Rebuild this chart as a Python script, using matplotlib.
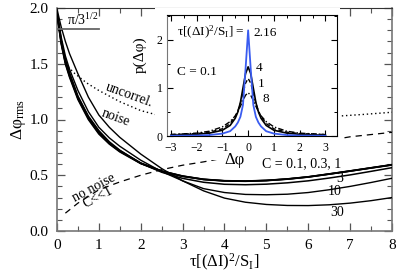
import matplotlib
matplotlib.use("Agg")
import matplotlib.pyplot as plt
from matplotlib.ticker import MultipleLocator, FormatStrFormatter
from matplotlib.patches import Rectangle
import numpy as np

plt.rcParams['font.family'] = ['Liberation Serif', 'DejaVu Serif']
plt.rcParams['mathtext.fontset'] = 'custom'
plt.rcParams['mathtext.rm'] = 'Liberation Serif'
plt.rcParams['mathtext.it'] = 'Liberation Serif'
plt.rcParams['mathtext.bf'] = 'Liberation Serif:bold'

# ---------------- main panel data ----------------
tau = [0, 0.1, 0.2, 0.3, 0.5, 0.75, 1.0, 1.25, 1.5, 2.0, 2.5, 3.0, 3.5, 4.0,
       4.5, 5.0, 5.5, 6.0, 6.5, 7.0, 7.5, 8.0]
rms_C01 = [1.95, 1.68, 1.50, 1.38, 1.18, 1.00, 0.87, 0.78, 0.71, 0.605, 0.535, 0.49,
           0.462, 0.449, 0.446, 0.452, 0.465, 0.484, 0.51, 0.537, 0.565, 0.592]
rms_C03 = [1.95, 1.69, 1.51, 1.39, 1.19, 1.01, 0.88, 0.785, 0.715, 0.607, 0.537, 0.492,
           0.463, 0.450, 0.447, 0.453, 0.466, 0.485, 0.511, 0.538, 0.566, 0.594]
rms_C1 = [1.96, 1.70, 1.52, 1.40, 1.20, 1.02, 0.89, 0.79, 0.72, 0.61, 0.538, 0.493,
          0.464, 0.451, 0.448, 0.454, 0.467, 0.486, 0.512, 0.539, 0.567, 0.595]
rms_C3 = [1.96, 1.71, 1.54, 1.42, 1.21, 1.03, 0.90, 0.80, 0.725, 0.607, 0.527, 0.472,
          0.437, 0.419, 0.415, 0.42, 0.432, 0.45, 0.475, 0.503, 0.535, 0.568]
rms_C10 = [1.97, 1.74, 1.57, 1.45, 1.26, 1.07, 0.93, 0.835, 0.76, 0.635, 0.533, 0.45,
           0.38, 0.345, 0.328, 0.325, 0.33, 0.345, 0.37, 0.40, 0.435, 0.473]
rms_C30 = [1.99, 1.83, 1.70, 1.59, 1.41, 1.20, 1.04, 0.93, 0.84, 0.69, 0.56, 0.45,
           0.36, 0.295, 0.258, 0.238, 0.229, 0.228, 0.235, 0.25, 0.272, 0.30]

tau_uncorr = [0.2, 0.4, 0.7, 1.0, 1.5, 2.0, 2.5, 3.0, 4.0, 5.0, 6.0, 6.7, 7.3, 8.0]
rms_uncorr = [1.50, 1.42, 1.33, 1.26, 1.16, 1.08, 1.03, 1.01, 0.99, 1.0, 1.015, 1.03, 1.045, 1.065]

tau_nonoise = [0.2, 0.5, 1.0, 1.5, 2.0, 2.5, 3.0, 3.5, 4.0, 5.0, 6.0, 7.0, 8.0]
rms_nonoise = [0.16, 0.25, 0.37, 0.44, 0.50, 0.55, 0.59, 0.62, 0.655, 0.72, 0.78, 0.845, 0.885]

tau_pi = [0, 1.0]
rms_pi = [np.pi / np.sqrt(3), np.pi / np.sqrt(3)]

# ---------------- inset data ----------------
dphi = [-3, -2, -1.5, -1, -0.7, -0.5, -0.4, -0.3, -0.2, -0.1, 0,
        0.1, 0.2, 0.3, 0.4, 0.5, 0.7, 1, 1.5, 2, 3]
p_216 = [0.005, 0.01, 0.02, 0.05, 0.10, 0.20, 0.28, 0.40, 0.65, 1.40, 2.20,
         1.40, 0.65, 0.40, 0.28, 0.20, 0.10, 0.05, 0.02, 0.01, 0.005]
p_4 = [0.015, 0.035, 0.06, 0.12, 0.22, 0.37, 0.50, 0.70, 1.00, 1.30, 1.44,
       1.30, 1.00, 0.70, 0.50, 0.37, 0.22, 0.12, 0.06, 0.035, 0.015]
p_1 = [0.03, 0.05, 0.08, 0.15, 0.26, 0.41, 0.52, 0.68, 0.90, 1.10, 1.20,
       1.10, 0.90, 0.68, 0.52, 0.41, 0.26, 0.15, 0.08, 0.05, 0.03]
p_8 = [0.03, 0.06, 0.10, 0.19, 0.30, 0.42, 0.51, 0.62, 0.74, 0.85, 0.90,
       0.85, 0.74, 0.62, 0.51, 0.42, 0.30, 0.19, 0.10, 0.06, 0.03]

W, H = 402, 274
fig = plt.figure(figsize=(W / 100, H / 100), dpi=100)
ax = fig.add_axes([57 / W, 1 - 231 / H, (392 - 57) / W, (231 - 8) / H])

for y, lw in [(rms_C01, 1.2), (rms_C03, 1.2), (rms_C1, 1.2), (rms_C3, 1.1),
              (rms_C10, 1.0), (rms_C30, 1.0)]:
    ax.plot(tau, y, color='black', lw=lw, zorder=3)
ax.plot(tau_uncorr, rms_uncorr, color='black', lw=1.0, ls=(0, (1, 2)), zorder=3)
ax.plot(tau_nonoise, rms_nonoise, color='black', lw=0.9, ls=(0, (5, 4)), zorder=3)
ax.plot(tau_pi, rms_pi, color='#666666', lw=1.3, zorder=3)

# white box behind inset
ax.add_patch(Rectangle((2.34, 0.637), 6.75 - 2.34, 1.5, facecolor='white',
                       edgecolor='none', zorder=5))

ax.set_xlim(0, 8)
ax.set_ylim(0, 2.0)
ax.xaxis.set_major_locator(MultipleLocator(1))
ax.xaxis.set_minor_locator(MultipleLocator(0.5))
ax.yaxis.set_major_locator(MultipleLocator(0.5))
ax.yaxis.set_minor_locator(MultipleLocator(0.1))
ax.tick_params(which='both', direction='in', top=True, right=True, labelsize=11,
               color='#555555')
ax.tick_params(axis='x', pad=6)
ax.tick_params(axis='y', pad=6)
ax.tick_params(which='major', length=6, width=0.9)
ax.tick_params(which='minor', length=3.5, width=0.8)
ax.yaxis.set_major_formatter(FormatStrFormatter('%.1f'))
for s in ['left', 'right', 'bottom']:
    ax.spines[s].set_color('#777777')
    ax.spines[s].set_linewidth(1.2)
ax.spines['top'].set_color('#333333')

ax.set_xlabel(r'τ[(ΔI)$^2$/S$_\mathrm{I}$]', fontsize=12, labelpad=0)
ax.set_ylabel(r'Δφ$_\mathrm{rms}$', fontsize=12.5, labelpad=1)

ax.text(0.62, 1.89, r'π/3$^{1/2}$', fontsize=10, ha='center', va='center', zorder=4)
ax.text(1.72, 1.215, 'uncorrel.', fontsize=10, rotation=-20, ha='center', va='center', zorder=4)
ax.text(1.41, 1.02, 'noise', fontsize=10, rotation=-20, ha='center', va='center', zorder=4)
ax.text(0.88, 0.385, 'no noise', fontsize=10, rotation=28, ha='center', va='center', zorder=4)
ax.text(0.98, 0.30, 'C<<1', fontsize=10, rotation=28, ha='center', va='center', zorder=4)
ax.text(5.85, 0.60, 'C = 0.1, 0.3, 1', fontsize=10, ha='center', va='center', zorder=6)
ax.text(6.75, 0.475, '3', fontsize=10, ha='center', va='center', zorder=4)
ax.text(6.63, 0.35, '10', fontsize=10, ha='center', va='center', zorder=4)
ax.text(6.68, 0.17, '30', fontsize=10, ha='center', va='center', zorder=4)

# ---------------- inset ----------------
ai = fig.add_axes([167 / W, 1 - 136 / H, 170 / W, 121 / H])
ai.plot(dphi, p_8, color='black', lw=1.0, ls=(0, (4, 1.5, 1, 1.5)))
ai.plot(dphi, p_1, color='black', lw=1.0, ls=(0, (3, 2)))
ai.plot(dphi, p_4, color='black', lw=1.2)
ai.plot(dphi, p_216, color='#3a5cf0', lw=1.3)
ai.set_xlim(-3.15, 3.45)
ai.set_ylim(0, 2.52)
ai.xaxis.set_major_locator(MultipleLocator(1))
ai.xaxis.set_minor_locator(MultipleLocator(0.5))
ai.yaxis.set_major_locator(MultipleLocator(1))
ai.yaxis.set_minor_locator(MultipleLocator(0.5))
ai.tick_params(which='both', direction='in', top=True, right=True, labelsize=8.5)
ai.tick_params(axis='x', pad=4)
ai.tick_params(axis='y', pad=3)
ai.tick_params(which='major', length=4, width=0.8)
ai.tick_params(which='minor', length=2.5, width=0.7)
ai.spines['left'].set_color('#777777')
ai.set_xlabel('Δφ', fontsize=12)
ai.xaxis.set_label_coords(0.395, -0.135)
ai.set_ylabel('p(Δφ)', fontsize=11)
ai.yaxis.set_label_coords(-0.12, 0.67)

ai.text(-2.75, 2.15, r'τ[(ΔI)$^2$/S$_\mathrm{I}$] =', fontsize=9.5, ha='left', va='center')
ai.text(0.2, 2.15, '2.16', fontsize=9.5, ha='left', va='center')
ai.text(-2.75, 1.33, 'C = 0.1', fontsize=9.5, ha='left', va='center')
ai.text(0.42, 1.42, '4', fontsize=9.5, ha='center', va='center')
ai.text(0.5, 1.08, '1', fontsize=9.5, ha='center', va='center')
ai.text(0.7, 0.77, '8', fontsize=9.5, ha='center', va='center')

fig.savefig('out.png', dpi=100)
